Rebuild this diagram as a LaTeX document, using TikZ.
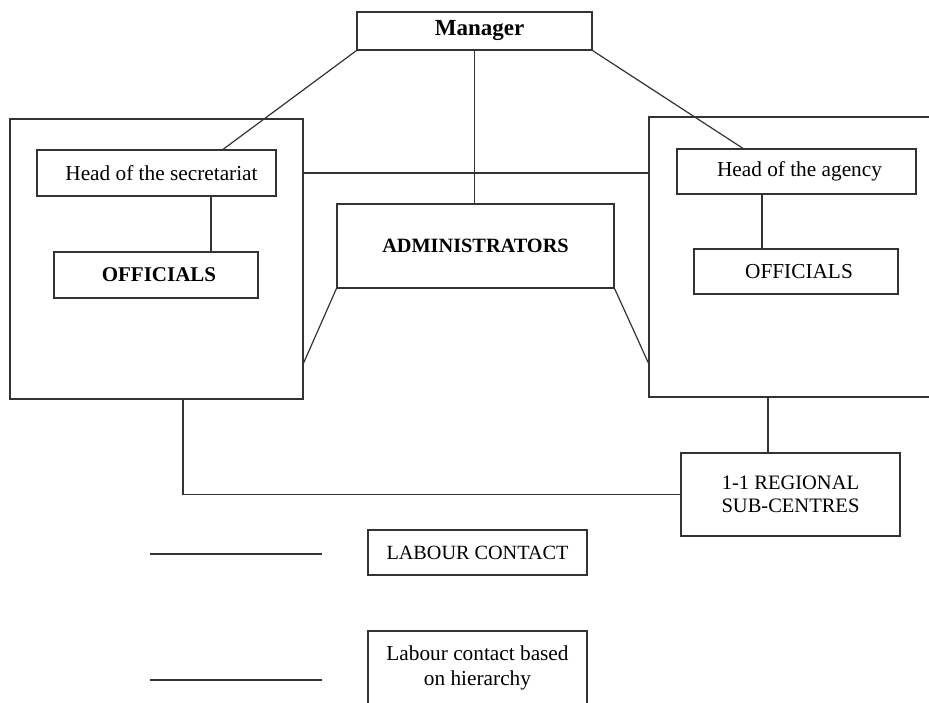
\documentclass[tikz,border=0pt]{standalone}
\usepackage{fontspec}
\setmainfont{Liberation Serif}
\begin{document}
\begin{tikzpicture}[x=1pt,y=-1pt,
  ln/.style={line width=1.2pt, draw=black!80},
  box/.style={ln, rectangle, inner sep=0pt, anchor=center, align=center,
     font=\fontsize{21.3}{23}\selectfont},
  bold/.style={font=\fontsize{21}{23}\selectfont\bfseries}]
\useasboundingbox (0,0) rectangle (929,702);
\clip (0,0) rectangle (929,702);
% outer boxes
\node[box, minimum width=293pt, minimum height=280pt] (lb) at (156.5,259) {};
\node[box, minimum width=300pt, minimum height=280pt] (rb) at (799,257) {};
% nodes
\node[box, minimum width=235pt, minimum height=38pt, font=\fontsize{23}{26}\selectfont\bfseries] (man) at (474.5,31) {\hspace{10pt}Manager};
\node[box, minimum width=239pt, minimum height=46pt] (sec) at (156.5,173) {\hspace{10pt}Head of the secretariat};
\node[box, bold, minimum width=204pt, minimum height=46pt] (offl) at (156,275) {\hspace{6pt}OFFICIALS};
\node[box, minimum width=277pt, minimum height=84pt, font=\fontsize{20.3}{23}\selectfont\bfseries] (adm) at (475.5,246) {ADMINISTRATORS};
\node[box, minimum width=239pt, minimum height=45pt] (agy) at (796.5,171.5) {\hspace{6pt}Head of the agency};
\node[box, minimum width=204pt, minimum height=45pt] (offr) at (796,271.5) {\hspace{6pt}OFFICIALS};
\node[box, minimum width=219pt, minimum height=83pt, font=\fontsize{20.5}{23}\selectfont] (reg) at (790.5,494.5) {1-1 REGIONAL\\SUB-CENTRES};
\node[box, minimum width=219pt, minimum height=45pt, font=\fontsize{20.2}{23}\selectfont] (lc) at (477.5,552.5) {LABOUR CONTACT};
\node[box, minimum width=219pt, minimum height=100pt] (lch) at (477.5,681) {};
\node[align=center, inner sep=0pt, font=\fontsize{21.3}{25}\selectfont] (lcht) at (477.5,667.5) {Labour contact based\\on hierarchy};
% connectors
\draw[ln] (man.south west) -- ([xshift=66.5pt]sec.north);
\draw[ln] (man.south) -- (adm.north -| man.south);
\draw[ln] (man.south east) -- ([xshift=-53.5pt]agy.north);
\coordinate (sx) at (211,0);
\coordinate (ax) at (762,0);
\draw[ln] (sec.south -| sx) -- (offl.north -| sx);
\draw[ln] (agy.south -| ax) -- (offr.north -| ax);
\draw[ln] (lb.east |- sec) -- (rb.west |- sec);
\coordinate (ay) at (0,363);
\draw[ln] (adm.south west) -- (lb.east |- ay);
\draw[ln] (adm.south east) -- (rb.west |- ay);
\coordinate (bx) at (183,0);
\draw[ln] (lb.south -| bx) |- (reg.west);
\coordinate (rx) at (768,0);
\draw[ln] (rb.south -| rx) -- (reg.north -| rx);
% legend lines
\coordinate (l1a) at (150,554); \coordinate (l1b) at (322,554);
\coordinate (l2a) at (150,680); \coordinate (l2b) at (322,680);
\draw[ln] (l1a) -- (l1b);
\draw[ln] (l2a) -- (l2b);
\end{tikzpicture}
\end{document}
